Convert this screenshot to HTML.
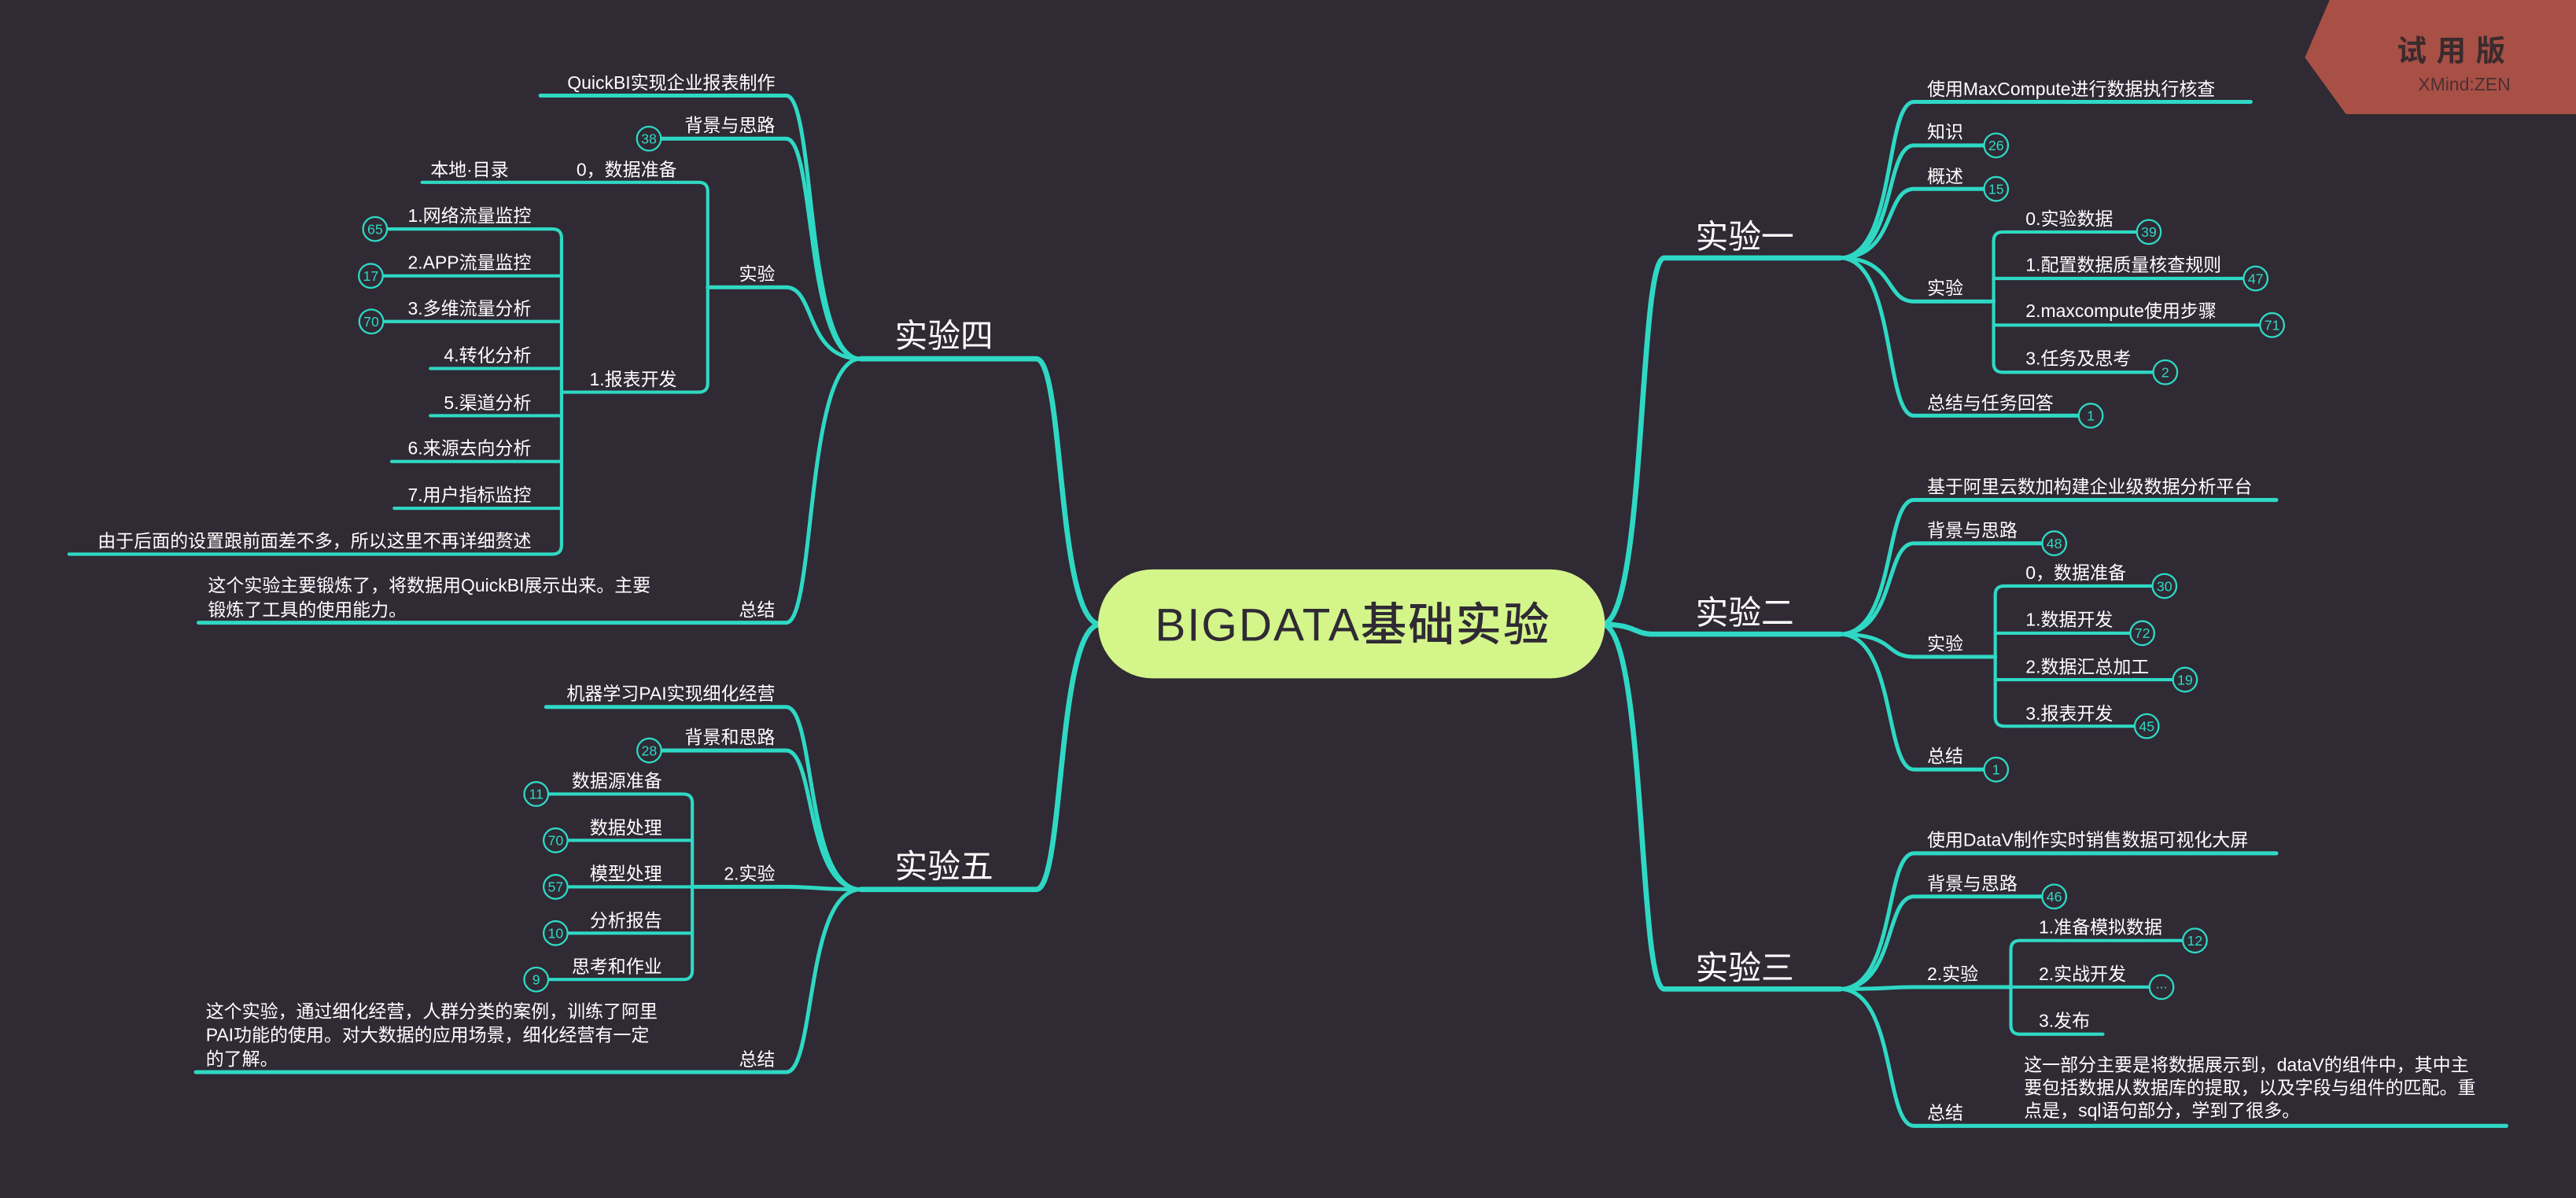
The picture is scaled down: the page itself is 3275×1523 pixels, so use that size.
<!DOCTYPE html>
<html><head><meta charset="utf-8">
<style>
html,body{margin:0;padding:0;background:#2f2a34;}
svg{display:block;}
text{font-family:"Liberation Sans","Noto Sans CJK SC",sans-serif;fill:#fff;}
.l{font-size:11px;}
.m{font-size:20px;}
.n{font-size:8.5px;fill:#2fd8c4;text-anchor:middle;}
.e{text-anchor:end;}
.t{fill:none;stroke:#2fd8c4;stroke-linecap:round;stroke-linejoin:round;}
.c{fill:#2f2a34;stroke:#2fd8c4;stroke-width:1.1;}
</style></head>
<body>
<svg width="3275" height="1523" viewBox="0 0 1568 729.2" preserveAspectRatio="none" xmlns="http://www.w3.org/2000/svg">
<rect width="1568" height="730" fill="#2f2a34"/>
<!-- banner -->
<polygon points="1418,0 1568,0 1568,69.5 1428,69.5 1403,35" fill="#a84f46"/>
<text x="1495" y="37" style="font-size:18px;font-weight:bold;fill:#3a2b2d;text-anchor:middle;letter-spacing:6px">试用版</text>
<text x="1500" y="55" style="font-size:11px;fill:#4a3032;text-anchor:middle">XMind:ZEN</text>

<!-- main branches -->
<g class="t" stroke-width="3.2">
<path d="M975,380 C1002,380 997,157 1013,157 L1120,157"/>
<path d="M975,380 C995,380 995,386 1006,386 L1120,386"/>
<path d="M975,380 C1002,380 997,602 1013,602 L1120,602"/>
<path d="M670,380 C643,380 648,218.4 630.7,218.4 L523.8,218.4"/>
<path d="M670,380 C643,380 648,541.4 630.7,541.4 L524,541.4"/>
</g>

<!-- 实验一 children -->
<g class="t" stroke-width="2.4">
<path d="M1120,157 C1154,157 1147,62 1165,62 L1370,62"/>
<path d="M1120,157 C1154,157 1147,88.5 1165,88.5 L1207.5,88.5"/>
<path d="M1120,157 C1154,157 1147,115 1165,115 L1207.5,115"/>
<path d="M1120,157 C1154,157 1147,183.5 1165,183.5 L1213.5,183.5"/>
<path d="M1120,157 C1154,157 1147,253 1165,253 L1265,253"/>
</g>
<g class="t" stroke-width="2">
<path d="M1300.5,141.2 L1219,141.2 Q1213.5,141.2 1213.5,147 L1213.5,221 Q1213.5,226.6 1219,226.6 L1310.5,226.6"/>
<path d="M1213.5,169.5 L1365.5,169.5 M1213.5,197.9 L1375.5,197.9"/>
</g>
<circle class="c" cx="1215" cy="88.5" r="7.3"/><text class="n" x="1215" y="91.5">26</text>
<circle class="c" cx="1215" cy="115" r="7.3"/><text class="n" x="1215" y="118">15</text>
<circle class="c" cx="1308" cy="141.2" r="7.3"/><text class="n" x="1308" y="144.2">39</text>
<circle class="c" cx="1373" cy="169.5" r="7.3"/><text class="n" x="1373" y="172.5">47</text>
<circle class="c" cx="1383" cy="197.9" r="7.3"/><text class="n" x="1383" y="200.9">71</text>
<circle class="c" cx="1318" cy="226.6" r="7.3"/><text class="n" x="1318" y="229.6">2</text>
<circle class="c" cx="1272.6" cy="253" r="7.3"/><text class="n" x="1272.6" y="256">1</text>
<text class="m" x="1032" y="151">实验一</text>
<text class="l" x="1173" y="58">使用MaxCompute进行数据执行核查</text>
<text class="l" x="1173" y="84">知识</text>
<text class="l" x="1173" y="111">概述</text>
<text class="l" x="1173" y="179">实验</text>
<text class="l" x="1173" y="249">总结与任务回答</text>
<text class="l" x="1233" y="137">0.实验数据</text>
<text class="l" x="1233" y="165">1.配置数据质量核查规则</text>
<text class="l" x="1233" y="193">2.maxcompute使用步骤</text>
<text class="l" x="1233" y="222">3.任务及思考</text>

<!-- 实验二 -->
<g class="t" stroke-width="2.4">
<path d="M1120,386 C1154,386 1147,304.3 1165,304.3 L1385.6,304.3"/>
<path d="M1120,386 C1154,386 1147,330.7 1165,330.7 L1243,330.7"/>
<path d="M1120,386 C1154,386 1147,399.8 1165,399.8 L1214.5,399.8"/>
<path d="M1120,386 C1154,386 1147,468.4 1165,468.4 L1207.5,468.4"/>
</g>
<g class="t" stroke-width="2">
<path d="M1310,356.7 L1220,356.7 Q1214.5,356.7 1214.5,362 L1214.5,436.5 Q1214.5,442 1220,442 L1299,442"/>
<path d="M1214.5,385.4 L1296.5,385.4 M1214.5,413.7 L1322.5,413.7"/>
</g>
<circle class="c" cx="1250.4" cy="330.7" r="7.3"/><text class="n" x="1250.4" y="333.7">48</text>
<circle class="c" cx="1317.5" cy="356.7" r="7.3"/><text class="n" x="1317.5" y="359.7">30</text>
<circle class="c" cx="1304" cy="385.4" r="7.3"/><text class="n" x="1304" y="388.4">72</text>
<circle class="c" cx="1330" cy="413.7" r="7.3"/><text class="n" x="1330" y="416.7">19</text>
<circle class="c" cx="1306.7" cy="442" r="7.3"/><text class="n" x="1306.7" y="445">45</text>
<circle class="c" cx="1215" cy="468.4" r="7.3"/><text class="n" x="1215" y="471.4">1</text>
<text class="m" x="1032" y="380">实验二</text>
<text class="l" x="1173" y="300">基于阿里云数加构建企业级数据分析平台</text>
<text class="l" x="1173" y="326.5">背景与思路</text>
<text class="l" x="1173" y="395.5">实验</text>
<text class="l" x="1173" y="464">总结</text>
<text class="l" x="1233" y="352.5">0，数据准备</text>
<text class="l" x="1233" y="381">1.数据开发</text>
<text class="l" x="1233" y="409.5">2.数据汇总加工</text>
<text class="l" x="1233" y="438">3.报表开发</text>

<!-- 实验三 -->
<g class="t" stroke-width="2.4">
<path d="M1120,602 C1154,602 1147,519.4 1165,519.4 L1385.6,519.4"/>
<path d="M1120,602 C1154,602 1147,545.7 1165,545.7 L1243,545.7"/>
<path d="M1120,602 C1150,602 1150,600.8 1165,600.8 L1224,600.8"/>
<path d="M1120,602 C1154,602 1147,685.3 1165,685.3 L1525.6,685.3"/>
</g>
<g class="t" stroke-width="2">
<path d="M1328.5,572.5 L1229.5,572.5 Q1224,572.5 1224,578 L1224,624 Q1224,629.5 1229.5,629.5 L1280,629.5"/>
<path d="M1224,600.8 L1308.2,600.8"/>
</g>
<circle class="c" cx="1250.4" cy="545.7" r="7.3"/><text class="n" x="1250.4" y="548.7">46</text>
<circle class="c" cx="1336" cy="572.5" r="7.3"/><text class="n" x="1336" y="575.5">12</text>
<circle class="c" cx="1315.7" cy="600.8" r="7.3"/><text class="n" x="1315.7" y="601.5">...</text>
<text class="m" x="1032" y="596">实验三</text>
<text class="l" x="1173" y="515">使用DataV制作实时销售数据可视化大屏</text>
<text class="l" x="1173" y="541.5">背景与思路</text>
<text class="l" x="1173" y="596.5">2.实验</text>
<text class="l" x="1173" y="681">总结</text>
<text class="l" x="1241" y="568">1.准备模拟数据</text>
<text class="l" x="1241" y="596.5">2.实战开发</text>
<text class="l" x="1241" y="625">3.发布</text>
<text class="l" x="1232" y="651.8">这一部分主要是将数据展示到，dataV的组件中，其中主</text>
<text class="l" x="1232" y="665.7">要包括数据从数据库的提取，以及字段与组件的匹配。重</text>
<text class="l" x="1232" y="679.7">点是，sql语句部分，学到了很多。</text>

<!-- 实验四 -->
<g class="t" stroke-width="2.4">
<path d="M523.8,218.4 C490,218.4 496.5,58.2 478.5,58.2 L329,58.2"/>
<path d="M523.8,218.4 C490,218.4 496.5,84.4 478.5,84.4 L402.5,84.4"/>
<path d="M523.8,218.4 C490,218.4 496.5,174.9 478.5,174.9 L430.8,174.9"/>
<path d="M523.8,218.4 C490,218.4 496.5,379 478.5,379 L120.9,379"/>
</g>
<g class="t" stroke-width="2">
<path d="M256.9,111 L425.3,111 Q430.8,111 430.8,116.5 L430.8,233.2 Q430.8,238.7 425.3,238.7 L341.8,238.7"/>
<path d="M235.8,139.4 L336.3,139.4 Q341.8,139.4 341.8,145 L341.8,331.8 Q341.8,337.3 336.3,337.3 L42,337.3"/>
<path d="M341.8,167.9 L233.2,167.9 M341.8,195.7 L233.5,195.7 M341.8,224.3 L262,224.3 M341.8,253 L262,253 M341.8,280.9 L238.4,280.9 M341.8,309.4 L240,309.4"/>
</g>
<circle class="c" cx="395" cy="84.4" r="7.3"/><text class="n" x="395" y="87.4">38</text>
<circle class="c" cx="228.3" cy="139.4" r="7.3"/><text class="n" x="228.3" y="142.4">65</text>
<circle class="c" cx="225.7" cy="167.9" r="7.3"/><text class="n" x="225.7" y="170.9">17</text>
<circle class="c" cx="226" cy="195.7" r="7.3"/><text class="n" x="226" y="198.7">70</text>
<text class="m" x="544.6" y="211.4">实验四</text>
<text class="l e" x="471.8" y="54">QuickBI实现企业报表制作</text>
<text class="l e" x="471.8" y="80">背景与思路</text>
<text class="l e" x="471.8" y="170.5">实验</text>
<text class="l e" x="471.8" y="375">总结</text>
<text class="l e" x="412" y="107">0，数据准备</text>
<text class="l" x="262" y="107">本地·目录</text>
<text class="l e" x="412" y="234.5">1.报表开发</text>
<text class="l e" x="323.4" y="135">1.网络流量监控</text>
<text class="l e" x="323.4" y="163.5">2.APP流量监控</text>
<text class="l e" x="323.4" y="191.5">3.多维流量分析</text>
<text class="l e" x="323.4" y="220">4.转化分析</text>
<text class="l e" x="323.4" y="249">5.渠道分析</text>
<text class="l e" x="323.4" y="276.5">6.来源去向分析</text>
<text class="l e" x="323.4" y="305">7.用户指标监控</text>
<text class="l e" x="323.4" y="333">由于后面的设置跟前面差不多，所以这里不再详细赘述</text>
<text class="l" x="126.6" y="360">这个实验主要锻炼了，将数据用QuickBI展示出来。主要</text>
<text class="l" x="126.6" y="375">锻炼了工具的使用能力。</text>

<!-- 实验五 -->
<g class="t" stroke-width="2.4">
<path d="M524,541.4 C490,541.4 496.5,430.3 478.5,430.3 L332.4,430.3"/>
<path d="M524,541.4 C490,541.4 496.5,456.8 478.5,456.8 L402.7,456.8"/>
<path d="M524,541.4 C500,541.4 495,539.8 478.5,539.8 L421.4,539.8"/>
<path d="M524,541.4 C490,541.4 496.5,652.6 478.5,652.6 L119.2,652.6"/>
</g>
<g class="t" stroke-width="2">
<path d="M334,483.3 L415.9,483.3 Q421.4,483.3 421.4,488.8 L421.4,590.7 Q421.4,596.2 415.9,596.2 L334,596.2"/>
<path d="M421.4,511.5 L345.7,511.5 M421.4,539.8 L345.7,539.8 M421.4,568 L345.7,568"/>
</g>
<circle class="c" cx="395.2" cy="456.8" r="7.3"/><text class="n" x="395.2" y="459.8">28</text>
<circle class="c" cx="326.4" cy="483.3" r="7.3"/><text class="n" x="326.4" y="486.3">11</text>
<circle class="c" cx="338.2" cy="511.5" r="7.3"/><text class="n" x="338.2" y="514.5">70</text>
<circle class="c" cx="338.2" cy="539.8" r="7.3"/><text class="n" x="338.2" y="542.8">57</text>
<circle class="c" cx="338.2" cy="568" r="7.3"/><text class="n" x="338.2" y="571">10</text>
<circle class="c" cx="326.4" cy="596.2" r="7.3"/><text class="n" x="326.4" y="599.2">9</text>
<text class="m" x="544.6" y="534.4">实验五</text>
<text class="l e" x="471.8" y="426">机器学习PAI实现细化经营</text>
<text class="l e" x="471.8" y="452.5">背景和思路</text>
<text class="l e" x="471.8" y="535.5">2.实验</text>
<text class="l e" x="471.8" y="648.5">总结</text>
<text class="l e" x="403" y="479">数据源准备</text>
<text class="l e" x="403" y="507.5">数据处理</text>
<text class="l e" x="403" y="535.5">模型处理</text>
<text class="l e" x="403" y="564">分析报告</text>
<text class="l e" x="403" y="592">思考和作业</text>
<text class="l" x="125.3" y="619.3">这个实验，通过细化经营，人群分类的案例，训练了阿里</text>
<text class="l" x="125.3" y="633.8">PAI功能的使用。对大数据的应用场景，细化经营有一定</text>
<text class="l" x="125.3" y="648.3">的了解。</text>

<!-- center -->
<rect x="668.4" y="346.6" width="308.5" height="66.3" rx="33" fill="#d3f58a"/>
<text x="823" y="390" textLength="240" style="font-size:28px;fill:#2f2a34;text-anchor:middle;font-weight:500">BIGDATA基础实验</text>
</svg>
</body></html>
